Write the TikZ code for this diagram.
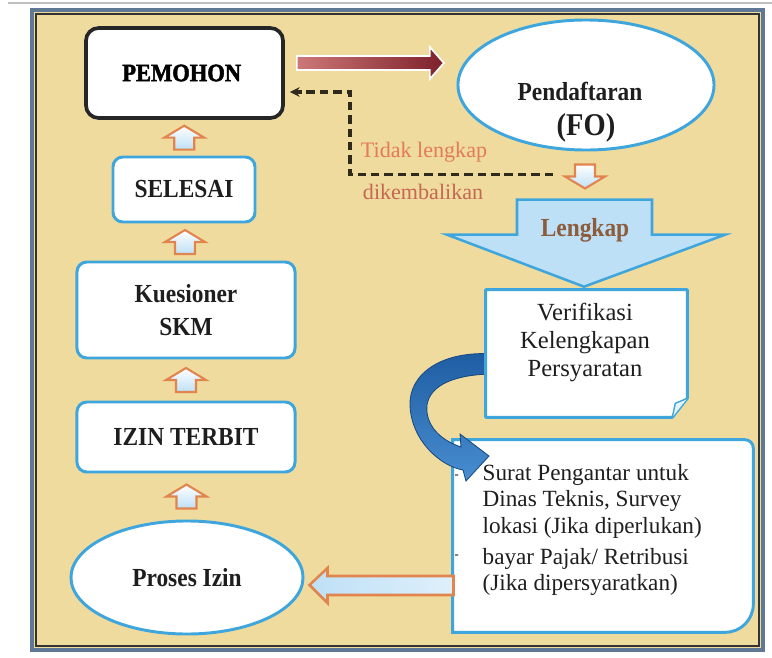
\documentclass[tikz,border=0pt]{standalone}
\usepackage{fontspec}
\setmainfont{Liberation Serif}
\newfontfamily\condfont[FakeStretch=0.9]{Liberation Serif}
\newfontfamily\heavyfont[FakeStretch=0.9,FakeBold=2]{Liberation Serif}
\usetikzlibrary{positioning,shapes.geometric,calc,arrows.meta}
\definecolor{PanelTan}{RGB}{240,219,158}
\definecolor{FrameBlue}{RGB}{95,120,150}
\definecolor{BoxBlue}{RGB}{62,166,220}
\definecolor{ArrowOrange}{RGB}{226,132,78}
\definecolor{ArrowFill}{RGB}{190,224,246}
\definecolor{MaroonDark}{RGB}{125,32,42}
\definecolor{MaroonLight}{RGB}{205,120,120}
\definecolor{SalmonText}{RGB}{226,122,92}
\definecolor{BrickText}{RGB}{196,104,84}
\definecolor{LengkapBrown}{RGB}{140,92,60}
\definecolor{CurlDark}{RGB}{30,92,162}
\definecolor{CurlLight}{RGB}{72,142,208}
\definecolor{DashDark}{RGB}{48,42,28}
\definecolor{TextDark}{RGB}{30,30,30}
\tikzset{
	bluebox/.style={draw=BoxBlue,line width=2.1pt,fill=white,rounded corners=7pt,inner sep=0pt},
	blueoval/.style={ellipse,draw=BoxBlue,line width=2.1pt,fill=white,inner sep=0pt},
	boldlbl/.style={font=\condfont\fontsize{18.5}{23}\selectfont\bfseries,text=TextDark,align=center},
	dashret/.style={draw=DashDark,line width=2.2pt,dash pattern=on 6pt off 3.5pt,-{Stealth[length=7pt,width=7pt]}},
	houseup/.pic={
		\path[draw=ArrowOrange,line width=1.5pt,top color=white,bottom color=ArrowFill]
		(0,-12) -- (20,0) -- (10,0) -- (10,12) -- (-10,12) -- (-10,0) -- (-20,0) -- cycle;
	}
}
\begin{document}
\begin{tikzpicture}[x=0.025cm,y=-0.025cm]
	\useasboundingbox (0,0) rectangle (772,658);
	\draw[gray!50,line width=1pt] (8,3) -- (772,3);
	\fill[PanelTan] (32,10) rectangle (763,650);
	\draw[FrameBlue,line width=2.5pt] (32,10) rectangle (763,650);
	\draw[black!80,line width=0.8pt] (36,14) rectangle (759,646);

	\node[bluebox,draw=black!85,line width=2.6pt,rounded corners=9pt,minimum width=4.925cm,minimum height=2.25cm,font=\heavyfont\fontsize{17.8}{20}\selectfont\bfseries] (pemohon) at (184.5,73) {\raisebox{-3pt}{PEMOHON}\hspace*{4pt}};
	\node[bluebox,minimum width=3.55cm,minimum height=1.625cm,boldlbl] (selesai) at (184,189.5) {SELESAI};
	\node[bluebox,minimum width=5.45cm,minimum height=2.4cm,boldlbl] (kues) at (186,310) {Kuesioner\\SKM};
	\node[bluebox,minimum width=5.45cm,minimum height=1.75cm,boldlbl] (izin) at (186,437) {IZIN TERBIT};
	\node[blueoval,minimum width=5.8cm,minimum height=2.825cm,boldlbl] (proses) at (187,577.5) {Proses Izin};

	\pic at ($(selesai.north)!0.5!(pemohon.south)$) {houseup};
	\pic at ($(kues.north)!0.5!(selesai.south)$) {houseup};
	\pic at ($(izin.north)!0.5!(kues.south)$) {houseup};
	\pic at ($(proses.north)!0.5!(izin.south)$) {houseup};

	\node[blueoval,minimum width=6.4cm,minimum height=3.25cm] (pend) at (586,85) {};
	\node[boldlbl] at ($(pend.center)+(-6,6)$) {Pendaftaran};
	\node[boldlbl,font=\condfont\fontsize{22.5}{26}\selectfont\bfseries] at ($(pend.center)+(0,43)$) {(FO)};

	\coordinate (redtail) at ($(pemohon.east)+(12,-10)$);
	\path[draw=white,line width=1.2pt,left color=MaroonLight,right color=MaroonDark]
	($(redtail)+(0,-7)$) -- ++(133,0) -- ++(0,-9) -- ++(14,16) -- ++(-14,16) -- ++(0,-9) -- ++(-133,0) -- cycle;

	\coordinate (retstart) at ($(pend.south)+(-33,23)$);
	\draw[dashret] (retstart) -- ++(-203,0) |- ($(pemohon.east)+(5,19)$);
	\node[anchor=west,text=SalmonText,font=\fontsize{15.7}{18}\selectfont] (tidak) at (356,152) {Tidak lengkap};
	\node[anchor=west,text=BrickText,font=\fontsize{15.7}{18}\selectfont] (kembali) at (358,192) {dikembalikan};

	\pic[rotate=180] at ($(pend.south)+(-1,25)$) {houseup};

	\node[minimum width=5.025cm,minimum height=3.175cm,inner sep=0pt] (verif) at (586.5,353.5) {};
	\coordinate (lktip) at ($(verif.north)+(-2.5,-3)$);
	\path[draw=BoxBlue,line width=1.8pt,top color=ArrowFill,middle color=white,bottom color=ArrowFill]
	(lktip) -- ++(141,-52) -- ++(-73,0) -- ++(0,-35) -- ++(-135,0) -- ++(0,35) -- ++(-70,0) -- cycle;
	\node[boldlbl,text=LengkapBrown] at ($(lktip)+(1,-56)$) {Lengkap};

	\node[minimum width=7.5cm,minimum height=4.8cm,inner sep=0pt] (surat) at (603,536) {};
	\draw[draw=BoxBlue,line width=2.1pt,fill=white] (surat.south west) -- (surat.north west) [rounded corners=6pt] -- (surat.north east) [rounded corners=20pt] -- (surat.south east) [sharp corners] -- cycle;
	\node[anchor=west,align=left,text=TextDark,font=\fontsize{16.5}{19}\selectfont] at ($(surat.west)+(25,-6)$) {Surat Pengantar untuk\\Dinas Teknis, Survey\\lokasi (Jika diperlukan)\\[2.8pt]bayar Pajak/ Retribusi\\(Jika dipersyaratkan)};
	\node[font=\small] at ($(surat.north west)+(4,37)$) {-};
	\node[font=\small] at ($(surat.north west)+(4,117)$) {-};

	\path[draw=ArrowOrange,line width=1.8pt,left color=ArrowFill,right color=white!50!ArrowFill]
	($(proses.east)+(5,7.5)$) -- ++(18,-17) -- ++(0,8) -- ++(126,0) -- ++(0,19) -- ++(-126,0) -- ++(0,8) -- cycle;

	\path[draw=CurlDark!80!black,line width=0.6pt,top color=CurlDark,bottom color=CurlLight]
	(495,354) .. controls (440,350) and (409,375) .. (410,405) .. controls (411,440) and (440,466) .. (463,470)
	-- (466,481) -- (489,456) -- (460,434) -- (461,447) .. controls (440,440) and (425,425) .. (427,405)
	.. controls (430,385) and (455,374) .. (495,374) -- cycle;

	\draw[draw=BoxBlue,line width=2.1pt,fill=white,line join=round] (verif.north west) -- (verif.north east) -- ($(verif.south east)+(0,-19)$) -- ($(verif.south east)+(-15,0)$) -- (verif.south west) -- cycle;
	\draw[BoxBlue,line width=1pt,fill=ArrowFill!40] ($(verif.south east)+(0,-19)$) -- ($(verif.south east)+(-12,-14)$) -- ($(verif.south east)+(-15,0)$);
	\node[align=center,text=TextDark,font=\fontsize{17.5}{19.6}\selectfont] at ($(verif.center)+(-1.5,-11)$) {Verifikasi\\Kelengkapan\\Persyaratan};
\end{tikzpicture}
\end{document}
